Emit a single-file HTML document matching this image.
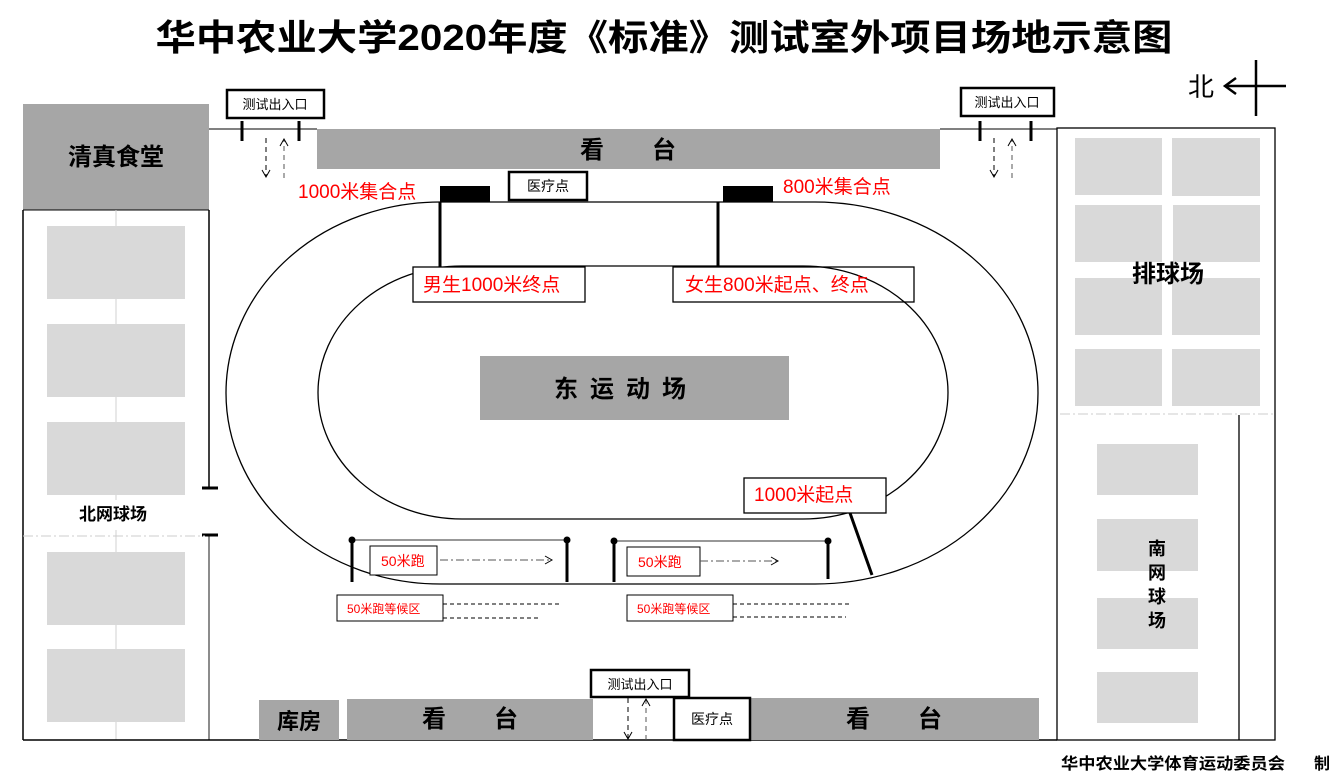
<!DOCTYPE html>
<html><head><meta charset="utf-8"><style>
html,body{margin:0;padding:0;background:#fff;}
svg{display:block;font-family:"Liberation Sans","Noto Sans CJK SC",sans-serif;}
</style></head><body>
<svg width="1338" height="776" viewBox="0 0 1338 776" xmlns="http://www.w3.org/2000/svg">
<defs>
<marker id="ah" markerWidth="10" markerHeight="10" refX="8" refY="5" orient="auto" markerUnits="userSpaceOnUse"><path d="M1,1 L8,5 L1,9" fill="none" stroke="#000" stroke-width="1"/></marker>
</defs>
<!-- title -->
<text x="664" y="50" text-anchor="middle" font-size="36" font-weight="bold" textLength="1017" lengthAdjust="spacingAndGlyphs">华中农业大学2020年度《标准》测试室外项目场地示意图</text>
<!-- north -->
<text x="1188" y="96" font-size="26">北</text>
<line x1="1286" y1="86" x2="1226" y2="86" stroke="#000" stroke-width="2.5"/>
<path d="M1236,78 L1225,86 L1236,94" fill="none" stroke="#000" stroke-width="2.5"/>
<line x1="1256" y1="60" x2="1256" y2="116" stroke="#000" stroke-width="2.5"/>

<!-- left building -->
<rect x="23" y="104" width="186" height="106" fill="#a6a6a6"/>
<text x="116" y="165" text-anchor="middle" font-size="24" font-weight="bold">清真食堂</text>
<line x1="23" y1="210" x2="23" y2="740" stroke="#000" stroke-width="1.5"/>
<line x1="23" y1="210" x2="209" y2="210" stroke="#000" stroke-width="1"/>
<line x1="209" y1="210" x2="209" y2="488" stroke="#000" stroke-width="1.5"/>
<line x1="209" y1="535" x2="209" y2="740" stroke="#666" stroke-width="1.5"/>
<line x1="202" y1="488" x2="218" y2="488" stroke="#000" stroke-width="3"/>
<line x1="202" y1="535" x2="218" y2="535" stroke="#000" stroke-width="3"/>
<line x1="116" y1="210" x2="116" y2="740" stroke="#d0d0d0" stroke-width="1"/>
<rect x="40" y="500" width="150" height="30" fill="#fff"/>
<g fill="#d9d9d9">
<rect x="47" y="226" width="138" height="73"/><rect x="47" y="324" width="138" height="73"/>
<rect x="47" y="422" width="138" height="73"/><rect x="47" y="552" width="138" height="73"/>
<rect x="47" y="649" width="138" height="73"/>
</g>
<line x1="23" y1="536" x2="205" y2="536" stroke="#ccc" stroke-width="1" stroke-dasharray="10,3,2,3"/>
<text x="113" y="520" text-anchor="middle" font-size="17" font-weight="bold">北网球场</text>
<line x1="23" y1="740" x2="1057" y2="740" stroke="#000" stroke-width="1.5"/>

<!-- top left entrance -->
<line x1="209" y1="129" x2="317" y2="129" stroke="#000" stroke-width="1"/>
<line x1="242" y1="121" x2="242" y2="141" stroke="#000" stroke-width="3"/>
<line x1="299" y1="121" x2="299" y2="141" stroke="#000" stroke-width="3"/>
<rect x="227" y="90" width="97" height="28" fill="#fff" stroke="#000" stroke-width="2.5"/>
<text x="275" y="109" text-anchor="middle" font-size="13">测试出入口</text>
<line x1="266" y1="138" x2="266" y2="177" stroke="#000" stroke-dasharray="5,4" marker-end="url(#ah)"/>
<line x1="284" y1="178" x2="284" y2="139" stroke="#555" stroke-dasharray="5,4" marker-end="url(#ah)"/>
<!-- top stand -->
<rect x="317" y="129" width="623" height="40" fill="#a6a6a6"/>
<text x="628" y="158" text-anchor="middle" font-size="24" font-weight="bold">看　　台</text>

<!-- top right entrance -->
<line x1="940" y1="129" x2="1057" y2="129" stroke="#000" stroke-width="1"/>
<line x1="980" y1="121" x2="980" y2="141" stroke="#000" stroke-width="3"/>
<line x1="1031" y1="121" x2="1031" y2="141" stroke="#000" stroke-width="3"/>
<rect x="961" y="88" width="93" height="28" fill="#fff" stroke="#000" stroke-width="2.5"/>
<text x="1007" y="107" text-anchor="middle" font-size="13">测试出入口</text>
<line x1="994" y1="138" x2="994" y2="177" stroke="#000" stroke-dasharray="5,4" marker-end="url(#ah)"/>
<line x1="1012" y1="178" x2="1012" y2="139" stroke="#555" stroke-dasharray="5,4" marker-end="url(#ah)"/>

<!-- right area -->
<rect x="1057" y="128" width="218" height="612" fill="none" stroke="#000" stroke-width="1.3"/>
<g fill="#d9d9d9">
<rect x="1075" y="138" width="87" height="57"/><rect x="1172" y="138" width="88" height="58"/>
<rect x="1075" y="205" width="87" height="57"/><rect x="1173" y="205" width="87" height="57"/>
<rect x="1075" y="278" width="87" height="57"/><rect x="1172" y="278" width="88" height="57"/>
<rect x="1075" y="349" width="87" height="57"/><rect x="1172" y="349" width="88" height="57"/>
<rect x="1097" y="444" width="101" height="51"/><rect x="1097" y="519" width="101" height="52"/>
<rect x="1097" y="598" width="101" height="51"/><rect x="1097" y="672" width="101" height="51"/>
</g>
<line x1="1060" y1="414" x2="1275" y2="414" stroke="#ccc" stroke-dasharray="10,3,2,3"/>
<line x1="1239" y1="415" x2="1239" y2="740" stroke="#000" stroke-width="1.3"/>
<text x="1168" y="282" text-anchor="middle" font-size="24" font-weight="bold">排球场</text>
<g font-size="18" font-weight="bold" text-anchor="middle">
<text x="1157" y="555">南</text><text x="1157" y="579">网</text><text x="1157" y="603">球</text><text x="1157" y="627">场</text>
</g>

<!-- track -->
<g fill="none" stroke="#000" stroke-width="1.3">
<path d="M440,202 L815,202 A223,191 0 0 1 815,584 L440,584 A214,191 0 0 1 440,202"/>
<path d="M462,266 L803,266 A145,126.5 0 0 1 803,519 L462,519 A144,126.5 0 0 1 462,266"/>
</g>
<rect x="509" y="172" width="78" height="28" fill="#fff" stroke="#000" stroke-width="2.5"/>
<text x="548" y="191" text-anchor="middle" font-size="14">医疗点</text>
<rect x="440" y="186" width="50" height="16" fill="#000"/>
<rect x="723" y="186" width="50" height="16" fill="#000"/>
<line x1="440" y1="202" x2="440" y2="268" stroke="#000" stroke-width="3"/>
<line x1="718" y1="202" x2="718" y2="266" stroke="#000" stroke-width="3"/>
<g fill="#ff0000" font-size="19">
<text x="298" y="198">1000米集合点</text>
<text x="783" y="193">800米集合点</text>
</g>
<rect x="413" y="267" width="172" height="35" fill="#fff" stroke="#000" stroke-width="1.3"/>
<text x="423" y="291" fill="#ff0000" font-size="19">男生1000米终点</text>
<rect x="673" y="267" width="241" height="35" fill="none" stroke="#000" stroke-width="1.3"/>
<text x="685" y="291" fill="#ff0000" font-size="19">女生800米起点、终点</text>
<rect x="480" y="356" width="309" height="64" fill="#a6a6a6"/>
<text x="626" y="397" text-anchor="middle" font-size="24" font-weight="bold" letter-spacing="12">东运动场</text>
<rect x="744" y="478" width="142" height="35" fill="#fff" stroke="#000" stroke-width="1.3"/>
<text x="754" y="501" fill="#ff0000" font-size="19">1000米起点</text>
<line x1="850" y1="513" x2="872" y2="575" stroke="#000" stroke-width="3"/>

<!-- 50m -->
<g stroke="#000">
<line x1="352" y1="540" x2="567" y2="540" stroke="#777" stroke-width="1.5"/>
<line x1="614" y1="541" x2="828" y2="541" stroke="#777" stroke-width="1.5"/>
<line x1="352" y1="540" x2="352" y2="582" stroke-width="3"/>
<line x1="567" y1="540" x2="567" y2="582" stroke-width="3"/>
<line x1="614" y1="541" x2="614" y2="582" stroke-width="3"/>
<line x1="828" y1="541" x2="828" y2="579" stroke-width="3"/>
</g>
<g fill="#000"><circle cx="352" cy="540" r="3.5"/><circle cx="567" cy="540" r="3.5"/><circle cx="614" cy="541" r="3.5"/><circle cx="828" cy="541" r="3.5"/></g>
<rect x="370" y="546" width="67" height="29" fill="#fff" stroke="#000"/>
<text x="381" y="566" fill="#ff0000" font-size="14">50米跑</text>
<rect x="627" y="547" width="73" height="29" fill="#fff" stroke="#000"/>
<text x="638" y="567" fill="#ff0000" font-size="14">50米跑</text>
<line x1="440" y1="560" x2="552" y2="560" stroke="#555" stroke-dasharray="8,3,2,3" marker-end="url(#ah)"/>
<line x1="700" y1="561" x2="778" y2="561" stroke="#555" stroke-dasharray="8,3,2,3" marker-end="url(#ah)"/>
<rect x="337" y="595" width="106" height="26" fill="#fff" stroke="#000"/>
<text x="347" y="613" fill="#ff0000" font-size="12">50米跑等候区</text>
<rect x="627" y="595" width="106" height="26" fill="#fff" stroke="#000"/>
<text x="637" y="613" fill="#ff0000" font-size="12">50米跑等候区</text>
<g stroke="#000" stroke-dasharray="4,3">
<line x1="443" y1="604" x2="560" y2="604"/><line x1="443" y1="618" x2="540" y2="618"/>
<line x1="733" y1="604" x2="852" y2="604"/><line x1="733" y1="617" x2="846" y2="617"/>
</g>

<!-- bottom -->
<rect x="259" y="700" width="80" height="40" fill="#a6a6a6"/>
<text x="299" y="729" text-anchor="middle" font-size="22" font-weight="bold">库房</text>
<rect x="347" y="699" width="246" height="41" fill="#a6a6a6"/>
<text x="470" y="727" text-anchor="middle" font-size="24" font-weight="bold">看　　台</text>
<rect x="750" y="698" width="289" height="42" fill="#a6a6a6"/>
<text x="894" y="727" text-anchor="middle" font-size="24" font-weight="bold">看　　台</text>
<line x1="628" y1="698" x2="628" y2="739" stroke="#000" stroke-dasharray="5,4" marker-end="url(#ah)"/>
<line x1="646" y1="740" x2="646" y2="699" stroke="#555" stroke-dasharray="5,4" marker-end="url(#ah)"/>
<rect x="591" y="670" width="98" height="27" fill="#fff" stroke="#000" stroke-width="2.5"/>
<text x="640" y="689" text-anchor="middle" font-size="13">测试出入口</text>
<rect x="674" y="698" width="76" height="42" fill="#fff" stroke="#000" stroke-width="2.5"/>
<text x="712" y="724" text-anchor="middle" font-size="14">医疗点</text>

<text x="1061" y="769" font-size="16" font-weight="bold" textLength="224" lengthAdjust="spacingAndGlyphs">华中农业大学体育运动委员会</text>
<text x="1314" y="769" font-size="16" font-weight="bold">制</text>
</svg>
</body></html>
